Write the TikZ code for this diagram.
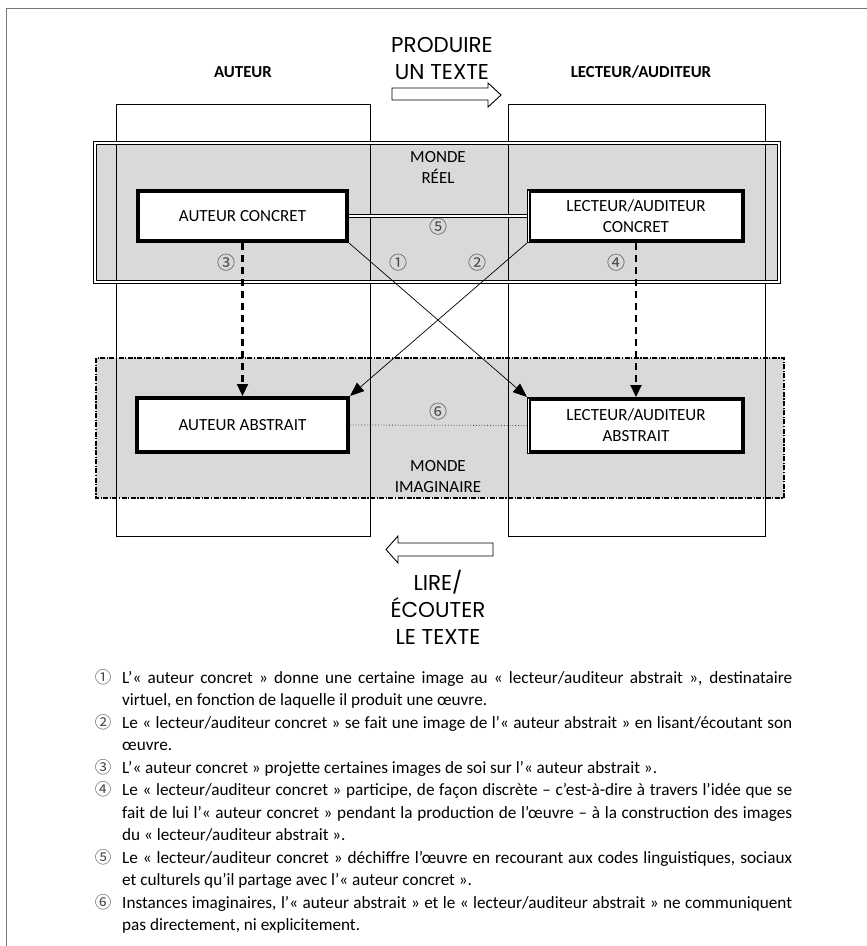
\documentclass[tikz,border=0pt]{standalone}
\usepackage{fontspec}
\setmainfont{Carlito}
\newfontfamily\gothic{Poppins}
\newfontfamily\circfont{Noto Sans CJK JP}
\usetikzlibrary{arrows.meta}
\definecolor{worldgray}{RGB}{217,217,217}
\definecolor{numgray}{RGB}{70,70,70}
\definecolor{framegray}{RGB}{120,120,120}
\newcommand{\fnsetup}{\fontsize{17.2}{22.5}\selectfont\hyphenpenalty=10000 }
\begin{document}
\begin{tikzpicture}[x=1pt,y=-1pt,
  lbl/.style={font=\fontsize{17}{21}\selectfont, align=center, inner sep=0pt},
  hdr/.style={font=\fontsize{16.8}{20}\selectfont\bfseries, inner sep=0pt},
  gothictext/.style={font=\gothic\fontsize{21.5}{27}\selectfont, align=center, inner sep=0pt},
  actor/.style={draw=black, line width=4.3pt, fill=white, inner sep=0pt,
    font=\fontsize{17}{21}\selectfont, align=center},
  num/.style={font=\circfont\fontsize{18}{18}\selectfont, text=numgray, inner sep=0pt},
  fnum/.style={font=\circfont\fontsize{16.5}{16.5}\selectfont, text=numgray, inner sep=0pt, anchor=base},
  fn/.style={font=\fnsetup, text width=670pt, align=justify, inner sep=0pt, anchor=base west},
  thinarrow/.style={line width=0.7pt, -{Triangle[length=14pt,width=11pt]}},
  dasharrow/.style={line width=2.2pt, dash pattern=on 7pt off 5pt, -{Triangle[length=12pt,width=11pt]}},
  blockarrow/.style={line width=0.9pt, fill=white, line join=miter},
  seam/.style={white, line width=1.1pt}]
\useasboundingbox (0,0) rectangle (867,946);
% page frame
\draw[framegray, line width=0.9pt] (6,960) -- (6,8) -- (880,8);
% world fills
\path[fill=worldgray] (95,143) rectangle (779,282);
\path[fill=worldgray] (96,358) rectangle (784,498);
% columns
\draw[line width=0.9pt] (116,104) rectangle (370,536);
\draw[line width=0.9pt] (508,104) rectangle (765,536);
% world borders
\draw[double, double distance=1.8pt, line width=0.7pt] (95,143) rectangle (779,282);
\draw[line width=1.2pt, dash pattern=on 5pt off 1.5pt on 1.2pt off 1.5pt] (96,358) rectangle (784,498);
% headers
\node[hdr] (hA) at (243,72) {AUTEUR};
\node[hdr] (hL) at (641,72) {LECTEUR/AUDITEUR};
\node[gothictext] (prod) at (442,58) {PRODUIRE\\UN TEXTE};
\draw[blockarrow] (392,88) -- (488,88) -- (488,83) -- (501,95) -- (488,107) -- (488,100) -- (392,100) -- cycle;
\node[gothictext] (lire) at (438,607) {LIRE/\\ÉCOUTER\\LE TEXTE};
\draw[blockarrow] (493,543) -- (398,543) -- (398,536) -- (386,549.5) -- (398,563) -- (398,556) -- (493,556) -- cycle;
% world labels
\node[lbl] (mr) at (438,167.5) {MONDE\\RÉEL};
\node[lbl] (mi) at (438,477) {MONDE\\IMAGINAIRE};
% actors
\node[actor, minimum width=208.7pt, minimum height=49.7pt] (ac) at (242.5,216) {AUTEUR CONCRET};
\node[actor, minimum width=213.7pt, minimum height=49.7pt] (lc) at (636,216) {LECTEUR/AUDITEUR\\CONCRET};
\node[actor, minimum width=210.7pt, minimum height=53.7pt] (aa) at (242.5,425) {AUTEUR ABSTRAIT};
\node[actor, minimum width=213.7pt, minimum height=52.7pt] (la) at (636,425.5) {LECTEUR/AUDITEUR\\ABSTRAIT};
\draw[seam] ([xshift=1.4pt,yshift=-1.5pt]lc.north west) -- ([xshift=1.4pt,yshift=1.5pt]lc.south west);
\draw[seam] ([xshift=1.4pt,yshift=-1.5pt]la.north west) -- ([xshift=1.4pt,yshift=1.5pt]la.south west);
% connectors
\draw[double, double distance=1.8pt, line width=0.7pt] (ac.east) -- (lc.west);
\draw[line width=0.8pt, dotted, numgray] (aa.east) -- (la.west);
\draw[thinarrow] (ac.south east) -- (la.north west);
\draw[thinarrow] (lc.south west) -- (aa.north east);
\draw[dasharrow] (ac.south) -- (aa.north);
\draw[dasharrow] (lc.south) -- (la.north);
% numbers
\node[num] (n1) at (398,263) {①};
\node[num] (n2) at (477,263) {②};
\node[num] (n3) at (226,263) {③};
\node[num] (n4) at (616,263) {④};
\node[num] (n5) at (438,227) {⑤};
\node[num] (n6) at (438,412) {⑥};
% footnotes
\node[fnum] (f1) at (103,683) {①};
\node[fn] (t1) at (122,683) {L’« auteur concret » donne une certaine image au « lecteur/auditeur abstrait », destinataire\linebreak virtuel, en fonction de laquelle il produit une œuvre.};
\node[fnum] (f2) at (103,728) {②};
\node[fn] (t2) at (122,728) {Le « lecteur/auditeur concret » se fait une image de l’« auteur abstrait » en lisant/écoutant son\linebreak œuvre.};
\node[fnum] (f3) at (103,773) {③};
\node[fn] (t3) at (122,773) {L’« auteur concret » projette certaines images de soi sur l’« auteur abstrait ».};
\node[fnum] (f4) at (103,795.5) {④};
\node[fn] (t4) at (122,795.5) {Le « lecteur/auditeur concret » participe, de façon discrète – c’est-à-dire à travers l’idée que se\linebreak fait de lui l’« auteur concret » pendant la production de l’œuvre – à la construction des images\linebreak du « lecteur/auditeur abstrait ».};
\node[fnum] (f5) at (103,863) {⑤};
\node[fn] (t5) at (122,863) {Le « lecteur/auditeur concret » déchiffre l’œuvre en recourant aux codes linguistiques, sociaux\linebreak et culturels qu’il partage avec l’« auteur concret ».};
\node[fnum] (f6) at (103,908) {⑥};
\node[fn] (t6) at (122,908) {Instances imaginaires, l’« auteur abstrait » et le « lecteur/auditeur abstrait » ne communiquent\linebreak pas directement, ni explicitement.};
\end{tikzpicture}
\end{document}
